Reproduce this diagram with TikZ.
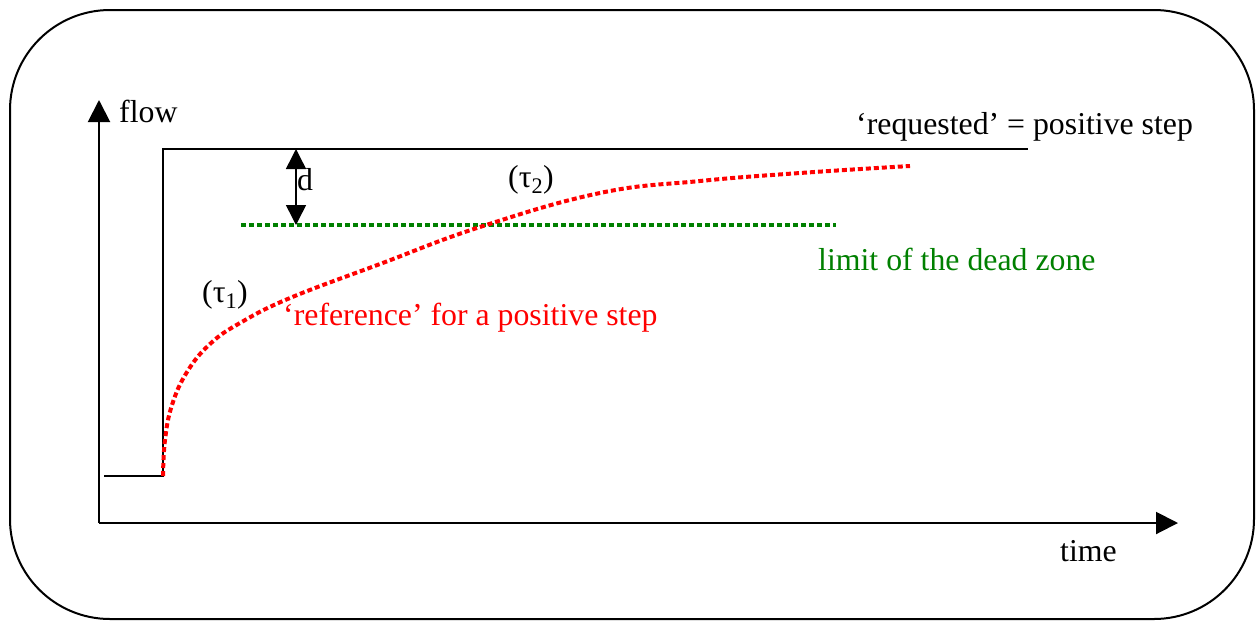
\documentclass[tikz,border=0pt]{standalone}
\usepackage{fontspec}
\setmainfont{Liberation Serif}
\usetikzlibrary{arrows.meta}
\definecolor{dgreen}{RGB}{0,128,0}
\begin{document}
\begin{tikzpicture}[x=1pt,y=-1pt,
  lbl/.style={inner sep=0pt,font=\fontsize{31.8}{36}\selectfont},
  axis/.style={line width=2pt,-{Triangle[length=22pt,width=22pt]}},
  blk/.style={line width=2pt},
  reddot/.style={red,line width=4pt,dash pattern=on 5pt off 3pt},
  greendot/.style={dgreen,line width=4pt,dash pattern=on 5pt off 3pt}]
\useasboundingbox (0,0) rectangle (1258,622);
\draw[line width=2pt,rounded corners=100pt] (10,10) rectangle (1254,619);
% axes
\coordinate (O) at (99,523);
\coordinate (ytop) at (99,100);
\coordinate (xend) at (1178,523);
\draw[axis] (O) -- (ytop);
\draw[axis] (O) -- (xend);
% requested step
\coordinate (s0) at (104,476);
\coordinate (s1) at (163,476);
\coordinate (s2) at (163,149);
\coordinate (s3) at (1028,149);
\draw[blk] (s0) -- (s1) -- (s2) -- (s3);
% dead zone limit
\coordinate (g0) at (241,225);
\coordinate (g1) at (836,225);
\draw[greendot] (g0) -- (g1);
% d arrow
\coordinate (dtop) at (296,149);
\coordinate (dbot) at (296,225);
\draw[line width=1.5pt,{Triangle[length=20pt,width=20pt]}-{Triangle[length=20pt,width=20pt]}] (dtop) -- (dbot);
% reference curve
\draw[reddot] plot[smooth,tension=0.7] coordinates {(163,476) (165,440) (172,405) (187,372) (210,344) (240,323) (290,298) (380,264) (480,227) (600,193) (700,181) (800,173) (910,166)};
% labels
\node[lbl,anchor=west] (flow) at (119,111) {flow};
\node[lbl,anchor=west] (time) at (1060,551) {time};
\node[lbl] (d) at (305,180) {d};
\node[lbl] (tau1) at (225,295) {(τ\textsubscript{1})};
\node[lbl] (tau2) at (531,180) {(τ\textsubscript{2})};
\node[lbl,anchor=west] (req) at (856,127) {‘requested’ = positive step};
\node[lbl,anchor=west,text=dgreen] (lim) at (818,259) {limit of the dead zone};
\node[lbl,anchor=west,text=red] (ref) at (283,318) {‘reference’ for a positive step};
\end{tikzpicture}
\end{document}
